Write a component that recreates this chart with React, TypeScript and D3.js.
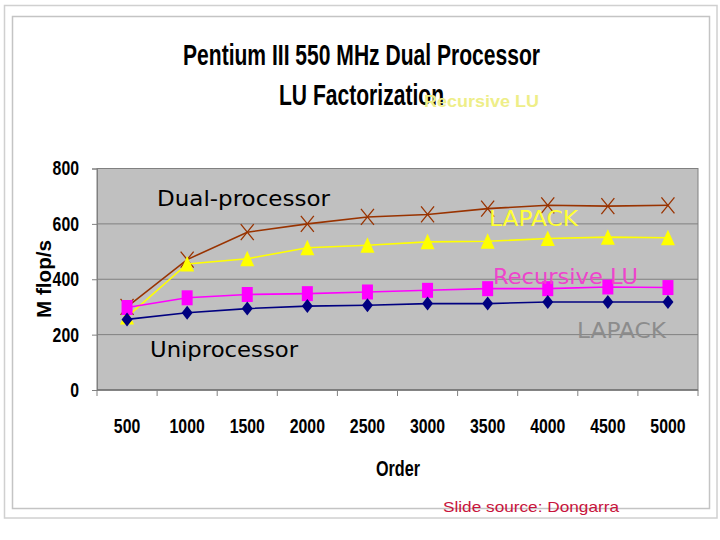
import { useEffect, useRef } from "react";
import * as d3 from "d3";

// chart values
const orders = ["500", "1000", "1500", "2000", "2500", "3000", "3500", "4000", "4500", "5000"];
const dualLapack = [300, 471, 570, 600, 625, 634, 655, 667, 664, 667];
const dualRecursive = [264, 455, 474, 514, 523, 535, 537, 547, 552, 550];
const uniRecursive = [298, 333, 345, 348, 354, 360, 366, 366, 372, 370];
const uniLapack = [255, 279, 294, 303, 306, 312, 312, 318, 318, 318];
const yTicks = [0, 200, 400, 600, 800];

const W = 720;
const H = 540;
const plot = { left: 97, right: 698, top: 168.5, bottom: 390 };

const handFont = "'DejaVu Sans', 'Comic Sans MS', sans-serif";
const narrowFont = "'Liberation Sans Narrow', 'Liberation Sans', Arial, sans-serif";

// width of a bold condensed label, about 8.8px per digit
const narrowWidth = (s: string) => s.length * 8.8;

const App = () => {
    const ref = useRef<SVGSVGElement>(null);

    useEffect(() => {
        const svg = d3.select(ref.current);
        svg.selectAll("*").remove();

        const x = d3.scaleBand().domain(orders).range([plot.left, plot.right]).paddingInner(0);
        const y = d3.scaleLinear().domain([0, 800]).range([plot.bottom, plot.top]);
        const cx = (d: string) => (x(d) as number) + x.bandwidth() / 2;

        // slide frames
        svg.append("rect").attr("x", 4.5).attr("y", 5.5).attr("width", 712.5).attr("height", 512.5)
            .attr("fill", "white").attr("stroke", "#d0d0d0").attr("stroke-width", 1.5);
        svg.append("rect").attr("x", 12.5).attr("y", 16.5).attr("width", 697).attr("height", 492)
            .attr("fill", "white").attr("stroke", "#c4c4c4").attr("stroke-width", 1.5);

        // plot area
        svg.append("rect").attr("x", plot.left).attr("y", plot.top)
            .attr("width", plot.right - plot.left).attr("height", plot.bottom - plot.top)
            .attr("fill", "#c0c0c0").attr("stroke", "#808080").attr("stroke-width", 1);

        const grid = svg.append("g");
        grid.selectAll("line").data(yTicks.slice(1, -1)).join("line")
            .attr("x1", plot.left).attr("x2", plot.right)
            .attr("y1", (d) => y(d)).attr("y2", (d) => y(d))
            .attr("stroke", "#808080").attr("stroke-width", 1);

        // y axis
        const yAxis = svg.append("g").attr("transform", `translate(${plot.left},0)`)
            .call(d3.axisLeft(y).tickValues(yTicks).tickSize(5).tickPadding(8).tickFormat(d3.format("d")));
        yAxis.select(".domain").attr("stroke", "#808080");
        yAxis.selectAll(".tick line").attr("stroke", "#808080");
        yAxis.selectAll<SVGTextElement, number>("text").attr("font-family", narrowFont).attr("font-weight", "bold")
            .attr("font-size", 20).attr("fill", "black").attr("dx", "-5")
            .attr("textLength", (d) => narrowWidth(String(d))).attr("lengthAdjust", "spacingAndGlyphs");

        // x axis with ticks at band edges
        const xAxisG = svg.append("g").attr("transform", `translate(0,${plot.bottom})`);
        xAxisG.append("line").attr("x1", plot.left).attr("x2", plot.right)
            .attr("stroke", "#707070").attr("stroke-width", 1.5);
        const edges = orders.map((d) => x(d) as number).concat([plot.right]);
        xAxisG.selectAll("line.tk").data(edges).join("line").attr("class", "tk")
            .attr("x1", (d) => d).attr("x2", (d) => d).attr("y1", 0).attr("y2", 6)
            .attr("stroke", "#808080");
        xAxisG.selectAll("text").data(orders).join("text")
            .attr("x", (d) => cx(d) - narrowWidth(d) / 2).attr("y", 43)
            .attr("textLength", (d) => narrowWidth(d)).attr("lengthAdjust", "spacingAndGlyphs")
            .attr("font-family", narrowFont).attr("font-weight", "bold").attr("font-size", 21)
            .text((d) => d);

        // series
        const series = [
            { values: dualLapack, color: "#993300", marker: "x" },
            { values: dualRecursive, color: "#ffff00", marker: "tri" },
            { values: uniRecursive, color: "#ff00ff", marker: "sq" },
            { values: uniLapack, color: "#000080", marker: "dia" },
        ];
        const line = d3.line<number>().x((_, i) => cx(orders[i])).y((d) => y(d));

        const markerPath = (m: string) => {
            const p = d3.path();
            if (m === "tri") {
                p.moveTo(0, -8); p.lineTo(7, 7.5); p.lineTo(-7, 7.5); p.closePath();
            } else if (m === "sq") {
                p.rect(-5.5, -7.5, 11, 15);
            } else if (m === "dia") {
                p.moveTo(0, -7); p.lineTo(5.5, 0); p.lineTo(0, 7); p.lineTo(-5.5, 0); p.closePath();
            } else {
                p.moveTo(-6.5, -8); p.lineTo(6.5, 8); p.moveTo(6.5, -8); p.lineTo(-6.5, 8);
            }
            return p.toString();
        };

        series.forEach((s) => {
            const g = svg.append("g");
            g.append("path").attr("d", line(s.values)).attr("fill", "none")
                .attr("stroke", s.color).attr("stroke-width", 1.6);
            g.selectAll("path.m").data(s.values).join("path").attr("class", "m")
                .attr("transform", (d, i) => `translate(${cx(orders[i])},${y(d)})`)
                .attr("d", markerPath(s.marker))
                .attr("fill", s.marker === "x" ? "none" : s.color)
                .attr("stroke", s.marker === "x" ? s.color : "none")
                .attr("stroke-width", 1.3);
        });

        // annotations inside the plot
        const notes = [
            { text: "Dual-processor", x: 157, y: 206, w: 173, color: "black" },
            { text: "LAPACK", x: 489, y: 226, w: 89, color: "#ffff33" },
            { text: "Recursive LU", x: 493, y: 284, w: 145, color: "#ee44cc" },
            { text: "LAPACK", x: 577, y: 338, w: 89, color: "#8c8c8c" },
            { text: "Uniprocessor", x: 150, y: 357, w: 148, color: "black" },
        ];
        svg.append("g").selectAll("text").data(notes).join("text")
            .attr("x", (d) => d.x).attr("y", (d) => d.y)
            .attr("textLength", (d) => d.w).attr("lengthAdjust", "spacingAndGlyphs")
            .attr("font-family", handFont).attr("font-size", 21).attr("fill", (d) => d.color)
            .text((d) => d.text);

        // titles
        svg.append("text").attr("x", 183).attr("y", 65).attr("textLength", 357)
            .attr("lengthAdjust", "spacingAndGlyphs").attr("font-family", narrowFont)
            .attr("font-weight", "bold").attr("font-size", 30).text("Pentium III 550 MHz Dual Processor");
        svg.append("text").attr("x", 279).attr("y", 105).attr("textLength", 165)
            .attr("lengthAdjust", "spacingAndGlyphs").attr("font-family", narrowFont)
            .attr("font-weight", "bold").attr("font-size", 30).text("LU Factorization");
        svg.append("text").attr("x", 424).attr("y", 107).attr("textLength", 115)
            .attr("lengthAdjust", "spacingAndGlyphs").attr("font-family", "'Liberation Sans', Arial, sans-serif")
            .attr("font-weight", "bold").attr("font-size", 16).attr("fill", "#eeee88").text("Recursive LU");

        // axis titles
        svg.append("text").attr("transform", "translate(51,279) rotate(-90)").attr("text-anchor", "middle")
            .attr("textLength", 78).attr("lengthAdjust", "spacingAndGlyphs")
            .attr("font-family", narrowFont).attr("font-weight", "bold").attr("font-size", 21).text("M flop/s");
        svg.append("text").attr("x", 376).attr("y", 476).attr("textLength", 44)
            .attr("lengthAdjust", "spacingAndGlyphs")
            .attr("font-family", narrowFont).attr("font-weight", "bold").attr("font-size", 22).text("Order");

        svg.append("text").attr("x", 443).attr("y", 512).attr("textLength", 176)
            .attr("lengthAdjust", "spacingAndGlyphs").attr("font-family", "'Liberation Sans', Arial, sans-serif")
            .attr("font-size", 15).attr("fill", "#c8143c").text("Slide source: Dongarra");
    }, []);

    return (
        <svg ref={ref} width={W} height={H} viewBox={`0 0 ${W} ${H}`}
            style={{ position: "absolute", left: 0, top: 0, background: "white" }} />
    );
};

export default App;
